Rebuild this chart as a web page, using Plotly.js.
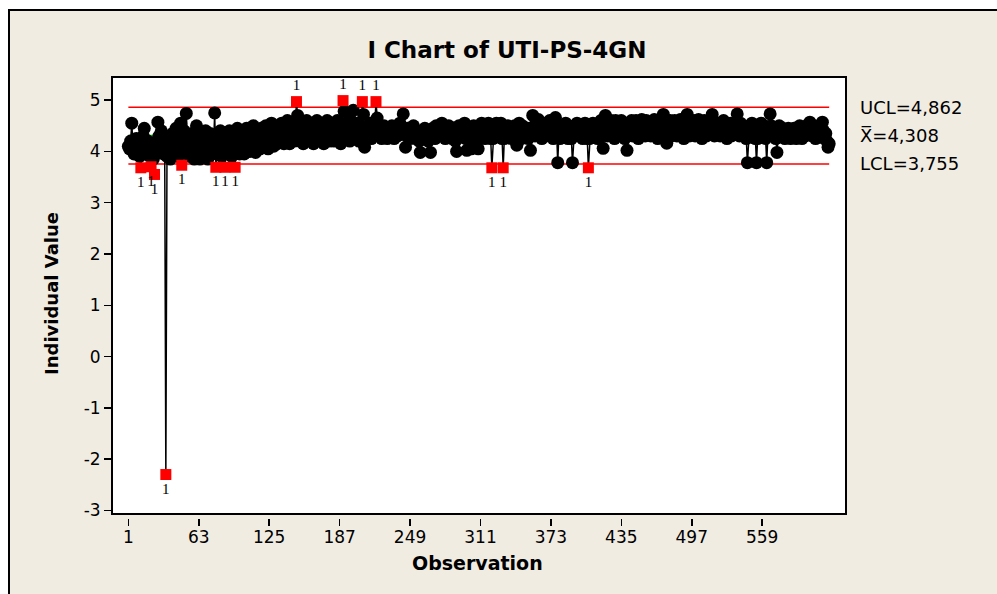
<!DOCTYPE html>
<html>
<head>
<meta charset="utf-8">
<script src="https://cdn.plot.ly/plotly-3.0.1.min.js"></script>
<style>
  html, body { margin: 0; padding: 0; background: #ffffff; overflow: hidden; }
  #frame { position: absolute; left: 8px; top: 9px; width: 1100px; height: 700px;
           border-left: 2px solid #000; border-top: 2px solid #000; background: #F0ECE2; }
  #chart { position: absolute; left: 0; top: 0; width: 997px; height: 594px; }
</style>
</head>
<body>
<div id="frame"></div>
<div id="chart"></div>
<script>
// Individual values, observation 1..N
const valuesA = [ // obs 1-100
  4.10,4.05,4.20,4.55,4.15,3.95,4.10,4.25,4.00,4.05,3.90,3.68,4.00,4.30,4.45,4.10,3.95,4.20,4.05,3.90,
  3.70,4.00,3.85,3.55,3.95,4.20,4.57,4.30,4.10,4.40,4.15,3.95,4.05,-2.30,3.90,4.25,4.05,3.85,4.15,4.35,
  4.20,4.00,4.45,4.10,3.90,4.25,4.55,3.73,4.05,4.40,4.20,4.74,4.30,4.05,3.90,4.15,4.35,4.00,3.85,4.20,
  4.50,4.25,4.00,3.85,4.10,4.30,3.90,4.05,4.40,4.15,3.85,4.00,4.35,4.20,3.95,4.10,4.75,3.69,4.05,4.30,
  4.00,4.40,3.90,4.15,4.35,3.69,4.05,4.25,3.95,4.40,4.10,3.90,4.30,4.00,3.69,4.20,4.45,4.05,3.95,4.25
];
const valuesB = [ // obs 101-200
  4.10,4.40,3.95,4.20,4.45,4.05,4.30,4.00,4.35,4.15,4.50,4.25,3.98,4.40,4.10,4.30,4.05,4.45,4.20,4.35,
  4.10,4.50,4.25,4.05,4.40,4.20,4.55,4.30,4.10,4.45,4.25,4.15,4.50,4.35,4.20,4.55,4.30,4.15,4.45,4.25,
  4.60,4.35,4.15,4.50,4.30,4.55,4.20,4.45,4.97,4.70,4.40,4.20,4.55,4.35,4.15,4.50,4.30,4.60,4.25,4.45,
  4.20,4.55,4.35,4.15,4.50,4.30,4.60,4.25,4.45,4.20,4.55,4.35,4.15,4.50,4.30,4.60,4.40,4.20,4.50,4.30,
  4.55,4.20,4.45,4.30,4.60,4.25,4.50,4.15,4.55,4.99,4.78,4.40,4.25,4.55,4.35,4.20,4.60,4.30,4.80,4.45
];
const valuesC = [ // obs 201-300
  4.25,4.55,4.35,4.20,4.50,4.30,4.97,4.72,4.08,4.40,4.25,4.50,4.35,4.55,4.25,4.45,4.30,4.55,4.97,4.65,
  4.40,4.30,4.45,4.25,4.35,4.50,4.30,4.40,4.25,4.45,4.35,4.30,4.50,4.40,4.25,4.35,4.45,4.30,4.40,4.55,
  4.35,4.45,4.73,4.40,4.08,4.30,4.45,4.35,4.25,4.40,4.30,4.50,4.35,4.25,4.40,4.30,4.20,3.98,4.30,4.40,
  4.25,4.45,4.35,4.30,4.20,4.35,3.98,4.30,4.45,4.35,4.25,4.50,4.40,4.30,4.45,4.35,4.55,4.30,4.40,4.25,
  4.45,4.35,4.50,4.30,4.40,4.25,4.45,4.35,4.20,4.00,4.35,4.50,4.40,4.30,4.45,4.35,4.55,4.25,4.02,4.40
];
const valuesD = [ // obs 301-420
  4.30,4.45,4.05,4.35,4.50,4.10,4.40,4.25,4.05,4.45,4.35,4.55,4.30,4.45,4.25,4.50,4.35,4.55,4.40,4.25,
  3.68,4.25,4.45,4.35,4.55,4.30,4.50,4.40,4.55,4.25,3.68,4.25,4.45,4.35,4.50,4.30,4.45,4.25,4.40,4.35,
  4.50,4.30,4.12,4.40,4.55,4.35,4.25,4.50,4.40,4.30,4.45,4.35,4.25,4.45,4.02,4.35,4.70,4.45,4.30,4.55,
  4.40,4.62,4.35,4.50,4.25,4.45,4.35,4.55,4.30,4.45,4.40,4.60,4.35,4.50,4.25,4.45,4.66,4.40,3.78,4.30,
  4.25,4.50,4.35,4.45,4.30,4.55,4.40,4.25,4.45,4.35,4.25,3.78,4.30,4.50,4.40,4.55,4.30,4.45,4.35,4.50,
  4.25,4.40,4.55,4.35,4.25,3.68,4.25,4.45,4.35,4.55,4.30,4.45,4.40,4.25,4.50,4.35,4.60,4.30,4.06,4.45
];
const valuesE = [ // obs 421-520
  4.70,4.45,4.30,4.55,4.40,4.60,4.35,4.50,4.25,4.60,4.40,4.55,4.30,4.45,4.60,4.35,4.50,4.25,4.40,4.02,
  4.35,4.55,4.40,4.60,4.30,4.50,4.35,4.60,4.45,4.25,4.55,4.40,4.62,4.35,4.50,4.30,4.60,4.45,4.35,4.55,
  4.30,4.50,4.40,4.62,4.35,4.55,4.25,4.45,4.60,4.40,4.30,4.72,4.45,4.35,4.16,4.50,4.40,4.60,4.30,4.55,
  4.35,4.60,4.45,4.30,4.55,4.40,4.62,4.35,4.50,4.25,4.45,4.60,4.72,4.40,4.30,4.55,4.45,4.35,4.60,4.30,
  4.50,4.40,4.62,4.35,4.55,4.25,4.45,4.60,4.40,4.30,4.55,4.45,4.35,4.60,4.72,4.40,4.30,4.55,4.45,4.35
];
const valuesF = [ // obs 521-618
  4.55,4.30,4.45,4.40,4.60,4.35,4.50,4.25,4.45,4.35,4.55,4.30,4.45,4.40,4.50,4.35,4.73,4.45,4.30,4.55,
  4.40,4.50,4.30,4.45,4.25,3.78,4.30,4.50,4.40,4.55,4.35,4.45,4.25,3.78,4.25,4.45,4.35,4.55,4.40,4.30,
  4.50,4.25,3.78,4.30,4.45,4.73,4.50,4.35,4.45,4.30,4.25,3.98,4.35,4.50,4.40,4.30,4.45,4.35,4.25,4.40,
  4.30,4.45,4.35,4.25,4.40,4.30,4.45,4.35,4.25,4.40,4.30,4.50,4.35,4.25,4.45,4.40,4.30,4.50,4.35,4.45,
  4.57,4.40,4.30,4.50,4.35,4.25,4.45,4.40,4.30,4.50,4.35,4.57,4.40,4.25,4.35,4.20,4.08,4.15
];

const UCL = 4.862, CL = 4.308, LCL = 3.755;
const limitLabels = ['UCL=4,862', 'X\u0305=4,308', 'LCL=3,755'];
const xTickVals = [1, 63, 125, 187, 249, 311, 373, 435, 497, 559];
const yTickVals = [-3, -2, -1, 0, 1, 2, 3, 4, 5];
const testLabel = '1';

const values = [].concat(valuesA, valuesB, valuesC, valuesD, valuesE, valuesF);
const obs = values.map((_, i) => i + 1);
const N = values.length;
const isOut = values.map(v => v > UCL || v < LCL);

const hiX = [], hiY = [], loX = [], loY = [];
values.forEach((v, i) => {
  if (v > UCL) { hiX.push(obs[i]); hiY.push(v); }
  else if (v < LCL) { loX.push(obs[i]); loY.push(v); }
});

const FONT = 'DejaVu Sans';
const traces = [
  { x: [1, N], y: [CL, CL], mode: 'lines', line: { color: '#00B400', width: 1.5 }, hoverinfo: 'skip' },
  { x: [1, N], y: [UCL, UCL], mode: 'lines', line: { color: '#FF0000', width: 1.5 }, hoverinfo: 'skip' },
  { x: [1, N], y: [LCL, LCL], mode: 'lines', line: { color: '#FF0000', width: 1.5 }, hoverinfo: 'skip' },
  { x: obs, y: values, mode: 'lines+markers',
    line: { color: '#000000', width: 1.5 },
    marker: { color: '#000000', opacity: 1, size: isOut.map(o => o ? 0 : 13), line: { width: 0 } } },
  { x: hiX, y: hiY, mode: 'markers+text', text: hiX.map(() => testLabel), textposition: 'top center',
    textfont: { family: 'Liberation Serif', size: 15, color: '#000' },
    marker: { symbol: 'square', color: '#FF0000', opacity: 1, size: 11, line: { width: 0 } } },
  { x: loX, y: loY, mode: 'markers+text', text: loX.map(() => testLabel), textposition: 'bottom center',
    textfont: { family: 'Liberation Serif', size: 15, color: '#000' },
    marker: { symbol: 'square', color: '#FF0000', opacity: 1, size: 11, line: { width: 0 } } }
];

const layout = {
  width: 997, height: 594,
  margin: { l: 112, r: 151, t: 77, b: 76, pad: 0 },
  paper_bgcolor: 'rgba(0,0,0,0)',
  plot_bgcolor: '#FFFFFF',
  showlegend: false,
  font: { family: FONT, color: '#000' },
  title: { text: '<b>I Chart of UTI-PS-4GN</b>', font: { family: FONT, size: 23, color: '#000' },
           xref: 'container', x: 0.5085, xanchor: 'center', yref: 'container', y: 0.916, yanchor: 'middle' },
  xaxis: {
    range: [-13.4, 632.8], tickmode: 'array', tickvals: xTickVals, ticktext: xTickVals.map(String),
    ticks: 'outside', ticklen: 7, tickwidth: 1.5, tickcolor: '#000', ticklabelstandoff: -3,
    showline: false, showgrid: false, zeroline: false,
    tickfont: { family: FONT, size: 17, color: '#000' },
    anchor: 'free', position: 0
  },
  yaxis: {
    domain: [0.009, 1],
    range: [-3.07, 5.45], tickmode: 'array', tickvals: yTickVals, ticktext: yTickVals.map(String),
    ticks: 'outside', ticklen: 7, tickwidth: 1.5, tickcolor: '#000',
    showline: false, showgrid: false, zeroline: false,
    tickfont: { family: FONT, size: 17, color: '#000' }
  },
  shapes: [
    { type: 'rect', xref: 'x domain', yref: 'y domain', x0: 0, x1: 1, y0: 0, y1: 1,
      line: { color: '#000', width: 2 }, fillcolor: 'rgba(0,0,0,0)', layer: 'above' }
  ],
  annotations: [
    { text: '<b>Observation</b>', xref: 'paper', yref: 'paper', x: 0.4986, y: -0.102,
      xanchor: 'center', yanchor: 'middle', showarrow: false, font: { family: FONT, size: 19, color: '#000' } },
    { text: '<b>Individual Value</b>', xref: 'paper', yref: 'paper', x: -0.0817, y: 0.508, textangle: -90,
      xanchor: 'center', yanchor: 'middle', showarrow: false, font: { family: FONT, size: 18, color: '#000' } },
    { text: limitLabels[0], xref: 'paper', yref: 'y', x: 1.0163, y: UCL, xanchor: 'left', yanchor: 'middle',
      showarrow: false, font: { family: FONT, size: 18, color: '#000' } },
    { text: limitLabels[1], xref: 'paper', yref: 'y', x: 1.0163, y: CL, xanchor: 'left', yanchor: 'middle',
      showarrow: false, font: { family: FONT, size: 18, color: '#000' } },
    { text: limitLabels[2], xref: 'paper', yref: 'y', x: 1.0163, y: LCL, xanchor: 'left', yanchor: 'middle',
      showarrow: false, font: { family: FONT, size: 18, color: '#000' } }
  ]
};

Plotly.newPlot('chart', traces, layout, { displayModeBar: false, staticPlot: true });
</script>
</body>
</html>
